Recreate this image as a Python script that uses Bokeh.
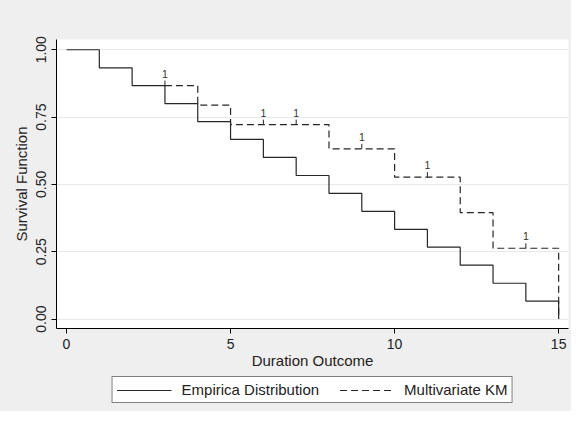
from bokeh.plotting import figure
from bokeh.layouts import column
from bokeh.models import (Range1d, FixedTicker, NumeralTickFormatter, Legend,
                          LegendItem, ColumnDataSource)
from bokeh.core.properties import value
from bokeh.embed import file_html
from bokeh.resources import INLINE

# Data
emp_time = [0, 1, 2, 3, 4, 5, 6, 7, 8, 9, 10, 11, 12, 13, 14, 15]
emp_surv = [1.000, 0.933, 0.867, 0.800, 0.733, 0.667, 0.600, 0.533,
            0.467, 0.400, 0.333, 0.267, 0.200, 0.133, 0.067, 0.000]

# KM coincides with the empirical curve before t = 3
km_time = [3, 4, 5, 8, 10, 12, 13, 15]
km_surv = [0.867, 0.794, 0.722, 0.632, 0.527, 0.395, 0.263, 0.000]

cens_time = [3, 6, 7, 9, 11, 14]
cens_surv = [0.867, 0.722, 0.722, 0.632, 0.527, 0.263]
cens_label = ["1", "1", "1", "1", "1", "1"]

x_ticks = [0, 5, 10, 15]
y_ticks = [0.0, 0.25, 0.5, 0.75, 1.0]

series_names = ["Empirica Distribution", "Multivariate KM"]

FONT = "Liberation Sans"
LINE = "#262626"
BG = "#efefef"
DASH = "7 4"

p = figure(width=571, height=372, output_backend="svg", toolbar_location=None,
           x_range=Range1d(-0.305, 15.3), y_range=Range1d(-0.035, 1.038),
           min_border_left=56, min_border_right=3, min_border_top=39,
           min_border_bottom=44)
p.background_fill_color = "white"
p.border_fill_color = BG
p.outline_line_color = None

for ax in (p.xaxis[0], p.yaxis[0]):
    ax.axis_line_color = "black"
    ax.major_tick_line_color = "black"
    ax.major_tick_out = 5
    ax.major_tick_in = 0
    ax.minor_tick_line_color = None
    ax.major_label_text_font = FONT
    ax.major_label_text_font_size = "14px"
    ax.major_label_text_color = "#222222"
    ax.axis_label_text_font = FONT
    ax.axis_label_text_font_size = "15px"
    ax.axis_label_text_font_style = "normal"
    ax.axis_label_text_color = "#222222"

p.xaxis.ticker = FixedTicker(ticks=x_ticks)
p.yaxis.ticker = FixedTicker(ticks=y_ticks)
p.yaxis.formatter = NumeralTickFormatter(format="0.00")
p.yaxis.major_label_orientation = "vertical"
p.xaxis.axis_label = "Duration Outcome"
p.yaxis.axis_label = "Survival Function"
p.xaxis.major_label_standoff = 5
p.xaxis.axis_label_standoff = 0
p.yaxis.major_label_standoff = 5
p.yaxis.axis_label_standoff = 4

p.xgrid.grid_line_color = None
p.ygrid.grid_line_color = "#e8e8e8"
p.ygrid.grid_line_width = 1

p.step(km_time, km_surv, mode="after", line_color=LINE, line_width=1.2,
       line_dash=DASH)
p.step(emp_time, emp_surv, mode="after", line_color=LINE, line_width=1.2)

# censoring ticks and labels
yspan = 1.038 + 0.035
tick_len = 5.0 / 289.0 * yspan
src = ColumnDataSource(dict(x=cens_time, y=cens_surv,
                            y1=[v + tick_len for v in cens_surv],
                            t=cens_label))
p.segment(x0="x", y0="y", x1="x", y1="y1", source=src, line_color=LINE,
          line_width=1)
p.text(x="x", y="y", text="t", source=src, text_font=value(FONT),
       text_font_size="10.5px", text_color="#333333", text_align="center",
       text_baseline="alphabetic", y_offset=-12)

# legend strip below the plot (series drawn out of view, only the legend shows)
q = figure(width=571, height=39, output_backend="svg", toolbar_location=None,
           x_range=Range1d(100, 101), y_range=Range1d(100, 101),
           x_axis_type=None, y_axis_type=None,
           min_border_left=56, min_border_right=3, min_border_top=0,
           min_border_bottom=0)
q.background_fill_color = None
q.border_fill_color = BG
q.outline_line_color = None
q.grid.grid_line_color = None
l_emp = q.step(emp_time, emp_surv, mode="after", line_color=LINE, line_width=1.2)
l_km = q.step(km_time, km_surv, mode="after", line_color=LINE, line_width=1.2,
              line_dash=DASH)

legend = Legend(items=[LegendItem(label=series_names[0], renderers=[l_emp]),
                       LegendItem(label=series_names[1], renderers=[l_km])],
                orientation="horizontal", location="top_center")
legend.border_line_color = "black"
legend.border_line_width = 1
legend.background_fill_color = "white"
legend.background_fill_alpha = 1
legend.label_text_font = FONT
legend.label_text_font_size = "15px"
legend.label_text_color = "#222222"
legend.glyph_width = 55
legend.glyph_height = 16
legend.label_standoff = 10
legend.spacing = 20
legend.padding = 4
legend.margin = 4
q.add_layout(legend, "center")

layout = column(p, q, spacing=0, styles={"background-color": BG})
open("out.html", "w").write(file_html(layout, INLINE))
